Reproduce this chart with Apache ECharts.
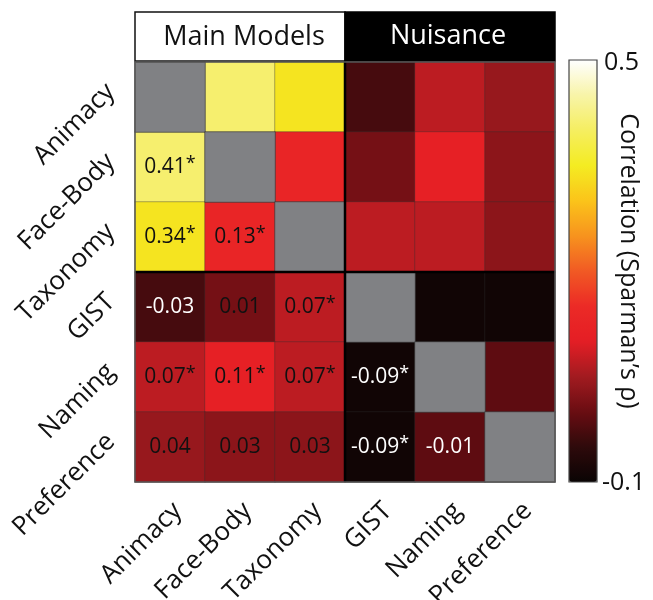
<!DOCTYPE html>
<html>
<head>
<meta charset="utf-8">
<script src="https://cdn.jsdelivr.net/npm/echarts@6/dist/echarts.min.js"></script>
<style>
  html, body { margin: 0; padding: 0; background: #fff; }
  #chart { width: 653px; height: 600px; }
</style>
</head>
<body>
<div id="chart"></div>
<script>
// Model names, in matrix order (rows top-to-bottom, columns left-to-right)
const categories = ['Animacy', 'Face-Body', 'Taxonomy', 'GIST', 'Naming', 'Preference'];

// Lower-triangle Spearman correlations, one list per row (columns before the diagonal)
const rowFaceBody   = [0.41];
const rowTaxonomy   = [0.34, 0.13];
const rowGIST       = [-0.03, 0.01, 0.07];
const rowNaming     = [0.07, 0.11, 0.07, -0.09];
const rowPreference = [0.04, 0.03, 0.03, -0.09, -0.01];

// Significance flags (1 = marked with an asterisk), same layout as above
const sigFaceBody   = [1];
const sigTaxonomy   = [1, 1];
const sigGIST       = [0, 0, 1];
const sigNaming     = [1, 1, 1, 1];
const sigPreference = [0, 0, 0, 1, 0];

// Colour scale limits and block titles
const scaleMin = -0.1;
const scaleMax = 0.5;
const blockTitles = ['Main Models', 'Nuisance'];
const scaleTitle = 'Correlation (Sparman\u2019s \u03c1)';

const lowerRows = [[], rowFaceBody, rowTaxonomy, rowGIST, rowNaming, rowPreference];
const sigRows = [[], sigFaceBody, sigTaxonomy, sigGIST, sigNaming, sigPreference];

const FONT = '"Open Sans", "Noto Sans", sans-serif';

// Build the symmetric matrix: labelled lower half, unlabelled mirrored upper half
const cells = [];
const diag = [];
for (let i = 0; i < categories.length; i++) {
  diag.push([i, i, 1]);
  for (let j = 0; j < i; j++) {
    const v = lowerRows[i][j];
    const star = sigRows[i][j] ? '{s|*}' : '';
    const col = v < 0 ? '#ffffff' : '#111111';
    cells.push({
      value: [j, i, v],
      label: {
        show: true,
        formatter: '{v|' + v.toFixed(2) + '}' + star,
        rich: {
          v: { fontSize: 21, color: col, fontFamily: FONT },
          s: { fontSize: 18, color: col, fontFamily: FONT, verticalAlign: 'top', padding: [0, 0, 6, 0] }
        }
      }
    });
    cells.push({ value: [i, j, v], label: { show: false } });
  }
}

const gridL = 135, gridT = 62, gridW = 420, gridH = 420;
const half = gridW / 2;

const chart = echarts.init(document.getElementById('chart'), null, { renderer: 'canvas' });

chart.setOption({
  backgroundColor: '#ffffff',
  animation: false,
  grid: {
    left: gridL, top: gridT, width: gridW, height: gridH,
    containLabel: false, outerBoundsMode: 'none'
  },
  xAxis: {
    type: 'category',
    data: categories,
    position: 'bottom',
    axisLine: { show: false },
    axisTick: { show: false },
    splitLine: { show: false },
    axisLabel: {
      rotate: 45, margin: 17, interval: 0, verticalAlign: 'top', lineHeight: 22,
      fontSize: 26, color: '#111', fontFamily: FONT
    }
  },
  yAxis: {
    type: 'category',
    data: categories,
    inverse: true,
    axisLine: { show: false },
    axisTick: { show: false },
    splitLine: { show: false },
    axisLabel: {
      rotate: 45, margin: 15, interval: 0, verticalAlign: 'bottom',
      fontSize: 26, color: '#111', fontFamily: FONT
    }
  },
  visualMap: {
    type: 'continuous',
    min: scaleMin,
    max: scaleMax,
    seriesIndex: 0,
    calculable: false,
    orient: 'vertical',
    left: 569,
    top: 60,
    padding: 0,
    itemWidth: 28,
    itemHeight: 422,
    showLabel: false,
    inRange: {
      color: [
        '#0a0404', '#2e0a0b', '#6a0d12', '#a21b20', '#e41e25', '#ec2a26',
        '#f15a24', '#f7931e', '#fbc41a', '#f4ec22', '#f5ee60', '#f8f4a8', '#ffffff'
      ]
    }
  },
  series: [
    {
      type: 'heatmap',
      data: cells,
      itemStyle: { borderColor: 'rgba(50,50,50,0.35)', borderWidth: 1 },
      label: { show: false },
      emphasis: { disabled: true }
    },
    {
      type: 'heatmap',
      data: diag,
      itemStyle: { color: '#808184', borderColor: 'rgba(50,50,50,0.6)', borderWidth: 1 },
      label: { show: false },
      emphasis: { disabled: true }
    }
  ],
  graphic: [
    // block headers
    {
      type: 'rect', z: 100,
      shape: { x: gridL, y: 12, width: half, height: 49 },
      style: { fill: '#ffffff', stroke: '#111', lineWidth: 1.5 }
    },
    {
      type: 'rect', z: 100,
      shape: { x: gridL + half, y: 12, width: half, height: 49 },
      style: { fill: '#000000', stroke: '#000', lineWidth: 1.5 }
    },
    {
      type: 'text', z: 101, x: gridL + half / 2 + 4, y: 37,
      style: { text: blockTitles[0], fill: '#111', font: '27px ' + FONT, textAlign: 'center', textVerticalAlign: 'middle' }
    },
    {
      type: 'text', z: 101, x: gridL + half * 1.5 - 2, y: 36,
      style: { text: blockTitles[1], fill: '#fff', font: '27px ' + FONT, textAlign: 'center', textVerticalAlign: 'middle' }
    },
    // block separators and frame
    {
      type: 'line', z: 100,
      shape: { x1: gridL + half, y1: gridT, x2: gridL + half, y2: gridT + gridH },
      style: { stroke: '#000', lineWidth: 2.5 }
    },
    {
      type: 'line', z: 100,
      shape: { x1: gridL, y1: gridT + half, x2: gridL + gridW, y2: gridT + half },
      style: { stroke: '#000', lineWidth: 2.5 }
    },
    {
      type: 'rect', z: 100,
      shape: { x: gridL, y: gridT, width: gridW, height: gridH },
      style: { fill: 'none', stroke: '#555', lineWidth: 1.5 }
    },
    // colour bar frame, end labels and title
    {
      type: 'rect', z: 100,
      shape: { x: 569, y: 60, width: 28, height: 422 },
      style: { fill: 'none', stroke: '#444', lineWidth: 1.2 }
    },
    {
      type: 'text', z: 101, x: 604, y: 63,
      style: { text: scaleMax.toFixed(1), fill: '#111', font: '25px ' + FONT, textAlign: 'left', textVerticalAlign: 'middle' }
    },
    {
      type: 'text', z: 101, x: 602, y: 483,
      style: { text: scaleMin.toFixed(1), fill: '#111', font: '25px ' + FONT, textAlign: 'left', textVerticalAlign: 'middle' }
    },
    {
      type: 'text', z: 101, x: 628, y: 261, rotation: -Math.PI / 2,
      style: { text: scaleTitle, fill: '#111', font: '25px ' + FONT, textAlign: 'center', textVerticalAlign: 'middle' }
    }
  ]
});
</script>
</body>
</html>
